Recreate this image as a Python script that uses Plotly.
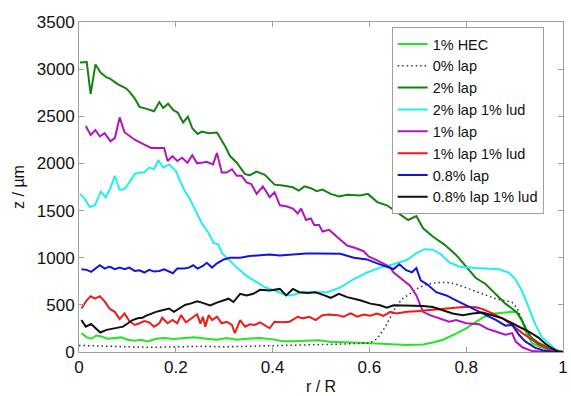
import plotly.graph_objects as go

# Surface height profiles z(r/R) for each fluid
hec_x = [0.005, 0.016, 0.026, 0.036, 0.046, 0.060, 0.074, 0.087, 0.101, 0.115, 0.128, 0.142, 0.159, 0.176,
         0.196, 0.217, 0.237, 0.264, 0.285, 0.305, 0.326, 0.346, 0.374, 0.401, 0.421, 0.442, 0.469, 0.496,
         0.517, 0.554, 0.595, 0.636, 0.677, 0.711, 0.731, 0.752, 0.765, 0.779, 0.800, 0.820, 0.834, 0.854,
         0.875, 0.895, 0.905, 0.916, 0.926, 0.936, 0.953, 0.977, 1.0]
hec_z = [200, 155, 141, 175, 165, 141, 148, 155, 130, 120, 130, 113, 141, 148,
         138, 148, 157, 141, 130, 148, 130, 141, 148, 134, 113, 113, 120, 124,
         110, 106, 96, 85, 75, 80, 100, 130, 160, 195, 250, 315, 365, 405,
         419, 426, 419, 320, 180, 95, 50, 18, 0]

lap0_x = [0.0, 0.05, 0.1, 0.15, 0.2, 0.25, 0.3, 0.35, 0.4, 0.45, 0.5, 0.55, 0.6, 0.616, 0.632, 0.643,
          0.653, 0.667, 0.684, 0.701, 0.718, 0.738, 0.759, 0.779, 0.800, 0.820, 0.840, 0.861, 0.881,
          0.895, 0.905, 0.916, 0.929, 0.950, 0.977, 1.0]
lap0_z = [70, 60, 55, 50, 55, 60, 55, 60, 65, 70, 80, 85, 95, 140, 260, 357,
          461, 560, 620, 680, 715, 735, 740, 720, 680, 640, 600, 565, 545,
          525, 465, 330, 185, 78, 20, 0]

lap2_x = [0.002, 0.016, 0.024, 0.034, 0.045, 0.057, 0.064, 0.080, 0.097, 0.104, 0.115, 0.125, 0.138, 0.155,
          0.166, 0.174, 0.184, 0.195, 0.204, 0.215, 0.225, 0.234, 0.245, 0.254, 0.268, 0.285, 0.302, 0.312,
          0.326, 0.343, 0.353, 0.367, 0.384, 0.404, 0.421, 0.442, 0.454, 0.466, 0.479, 0.491, 0.503, 0.520,
          0.537, 0.554, 0.581, 0.597, 0.616, 0.636, 0.656, 0.680, 0.697, 0.711, 0.731, 0.755, 0.779, 0.800,
          0.820, 0.840, 0.861, 0.881, 0.905, 0.915, 0.925, 0.935, 0.950, 0.970, 1.0]
lap2_z = [3070, 3075, 2738, 3050, 2960, 2912, 2900, 2842, 2797, 2762, 2690, 2600, 2581, 2553,
          2651, 2589, 2634, 2564, 2540, 2435, 2495, 2373, 2313, 2338, 2321, 2328, 2182, 2078,
          2008, 1886, 1875, 1914, 1880, 1775, 1765, 1747, 1712, 1757, 1737, 1705, 1723, 1677,
          1650, 1667, 1660, 1677, 1590, 1556, 1486, 1400, 1441, 1312, 1225, 1139, 1030, 900,
          785, 722, 617, 513, 420, 340, 230, 150, 96, 44, 0]

lap2lud_x = [0.002, 0.012, 0.022, 0.033, 0.045, 0.055, 0.065, 0.074, 0.084, 0.094, 0.104, 0.115, 0.125,
             0.135, 0.145, 0.155, 0.164, 0.174, 0.186, 0.200, 0.210, 0.220, 0.227, 0.241, 0.254, 0.268,
             0.278, 0.288, 0.295, 0.309, 0.326, 0.346, 0.363, 0.384, 0.404, 0.425, 0.438, 0.459, 0.486,
             0.513, 0.540, 0.568, 0.595, 0.622, 0.650, 0.677, 0.697, 0.714, 0.731, 0.748, 0.765, 0.786,
             0.820, 0.847, 0.868, 0.888, 0.902, 0.916, 0.929, 0.943, 0.956, 0.970, 0.987, 1.0]
lap2lud_z = [1677, 1625, 1538, 1556, 1700, 1640, 1740, 1869, 1719, 1729, 1799, 1886, 1903,
             1903, 1956, 1938, 2036, 1956, 1990, 1921, 1799, 1695, 1643, 1504, 1364, 1260,
             1156, 1139, 1051, 982, 895, 808, 756, 686, 652, 607, 600, 634, 634,
             634, 686, 774, 843, 895, 930, 975, 1045, 1090, 1085, 1035, 950, 905,
             890, 885, 878, 843, 770, 640, 470, 290, 160, 90, 15, 0]

lap1_x = [0.014, 0.024, 0.034, 0.043, 0.053, 0.065, 0.074, 0.084, 0.094, 0.104, 0.115, 0.135, 0.149, 0.176,
          0.183, 0.193, 0.203, 0.213, 0.224, 0.234, 0.244, 0.256, 0.264, 0.277, 0.285, 0.295, 0.305, 0.316,
          0.326, 0.336, 0.346, 0.356, 0.367, 0.380, 0.394, 0.404, 0.415, 0.428, 0.442, 0.452, 0.459, 0.469,
          0.479, 0.486, 0.496, 0.503, 0.517, 0.540, 0.554, 0.571, 0.588, 0.599, 0.612, 0.632, 0.643, 0.650,
          0.670, 0.684, 0.697, 0.711, 0.725, 0.745, 0.765, 0.779, 0.800, 0.827, 0.844, 0.861, 0.881, 0.895,
          0.902, 0.916, 0.936, 0.960, 1.0]
lap1_z = [2397, 2303, 2355, 2286, 2321, 2234, 2269, 2488, 2331, 2297, 2251, 2199, 2164, 2164,
          2025, 2077, 2025, 2060, 2008, 2088, 2001, 2010, 2018, 1990, 2112, 1903, 1903, 1938,
          1869, 1869, 1799, 1782, 1677, 1757, 1643, 1695, 1556, 1546, 1521, 1469, 1521, 1400,
          1416, 1348, 1348, 1278, 1295, 1191, 1129, 1103, 1069, 1010, 982, 930, 895, 843,
          760, 704, 600, 426, 391, 357, 321, 339, 305, 294, 245, 217, 183, 200,
          113, 50, 10, 3, 0]

lap1lud_x = [0.005, 0.016, 0.024, 0.033, 0.043, 0.053, 0.063, 0.074, 0.084, 0.094, 0.104, 0.115, 0.125,
             0.135, 0.145, 0.155, 0.166, 0.172, 0.183, 0.193, 0.203, 0.211, 0.221, 0.232, 0.244, 0.251,
             0.256, 0.261, 0.268, 0.275, 0.285, 0.295, 0.305, 0.316, 0.322, 0.333, 0.343, 0.353, 0.363,
             0.374, 0.384, 0.394, 0.404, 0.421, 0.435, 0.452, 0.462, 0.476, 0.489, 0.503, 0.517, 0.534,
             0.547, 0.561, 0.575, 0.588, 0.602, 0.616, 0.629, 0.643, 0.656, 0.677, 0.697, 0.718, 0.745,
             0.776, 0.800, 0.820, 0.834, 0.854, 0.875, 0.895, 0.916, 0.933, 0.950, 0.970, 0.990, 1.0]
lap1lud_z = [461, 548, 592, 565, 592, 537, 461, 426, 349, 409, 329, 287, 305,
             329, 315, 269, 305, 363, 305, 339, 305, 391, 315, 357, 400, 300,
             374, 269, 391, 339, 374, 305, 321, 287, 200, 339, 269, 294, 287,
             315, 287, 252, 321, 315, 321, 374, 357, 374, 339, 391, 398, 391,
             374, 409, 374, 398, 384, 409, 384, 426, 409, 426, 433, 443, 455,
             470, 480, 475, 455, 409, 357, 287, 200, 140, 78, 33, 5, 0]

lap08_x = [0.005, 0.016, 0.025, 0.033, 0.043, 0.053, 0.063, 0.074, 0.084, 0.094, 0.104, 0.115, 0.125,
           0.135, 0.145, 0.155, 0.166, 0.176, 0.186, 0.194, 0.203, 0.217, 0.227, 0.236, 0.245, 0.256,
           0.264, 0.275, 0.285, 0.299, 0.312, 0.333, 0.353, 0.374, 0.394, 0.415, 0.442, 0.469, 0.496,
           0.517, 0.540, 0.568, 0.595, 0.616, 0.636, 0.650, 0.662, 0.675, 0.688, 0.697, 0.706, 0.720,
           0.738, 0.759, 0.779, 0.800, 0.820, 0.840, 0.861, 0.881, 0.895, 0.909, 0.922, 0.943, 0.960,
           0.980, 1.0]
lap08_z = [878, 871, 850, 885, 920, 885, 906, 878, 895, 878, 895, 860, 867,
           843, 871, 853, 860, 878, 850, 836, 885, 885, 895, 920, 885, 913,
           947, 895, 940, 982, 1000, 1000, 1017, 1024, 1035, 1024, 1035, 1045, 1045,
           1040, 1041, 1000, 982, 940, 900, 880, 930, 870, 845, 890, 760, 715,
           634, 600, 548, 495, 443, 391, 340, 280, 287, 183, 113, 44, 15,
           3, 0]

lap08lud_x = [0.005, 0.014, 0.025, 0.034, 0.044, 0.057, 0.074, 0.091, 0.101, 0.111, 0.121, 0.131, 0.138,
              0.149, 0.159, 0.172, 0.186, 0.196, 0.209, 0.220, 0.230, 0.244, 0.254, 0.271, 0.285, 0.299,
              0.309, 0.319, 0.333, 0.346, 0.360, 0.374, 0.394, 0.415, 0.428, 0.442, 0.455, 0.472, 0.489,
              0.507, 0.520, 0.537, 0.554, 0.581, 0.602, 0.622, 0.636, 0.650, 0.684, 0.711, 0.731, 0.752,
              0.772, 0.793, 0.813, 0.834, 0.854, 0.875, 0.895, 0.916, 0.933, 0.950, 0.963, 0.977, 0.990, 1.0]
lap08lud_z = [339, 269, 297, 252, 207, 235, 252, 269, 305, 339, 357, 363, 384,
              409, 426, 443, 461, 426, 467, 502, 513, 537, 524, 495, 524, 548,
              565, 530, 617, 600, 617, 659, 652, 669, 600, 669, 634, 627, 634,
              600, 575, 617, 582, 548, 513, 495, 470, 495, 495, 488, 478, 443,
              409, 391, 409, 419, 391, 357, 305, 252, 205, 150, 90, 40, 5, 0]

series = [
    ("1% HEC", hec_x, hec_z, "#22e622", "solid", 2),
    ("0% lap", lap0_x, lap0_z, "#333333", "1.5px,3px", 1.5),
    ("2% lap", lap2_x, lap2_z, "#138213", "solid", 2),
    ("2% lap 1% lud", lap2lud_x, lap2lud_z, "#22eeee", "solid", 2),
    ("1% lap", lap1_x, lap1_z, "#b414c0", "solid", 2),
    ("1% lap 1% lud", lap1lud_x, lap1lud_z, "#ee1a1a", "solid", 2),
    ("0.8% lap", lap08_x, lap08_z, "#1414dc", "solid", 2),
    ("0.8% lap 1% lud", lap08lud_x, lap08lud_z, "#111111", "solid", 2),
]

fig = go.Figure()
for name, xs, zs, color, dash, w in series:
    fig.add_trace(go.Scatter(x=xs, y=zs, mode="lines", name=name,
                             line=dict(color=color, width=w, dash=dash)))

axis_style = dict(showline=True, linecolor="#a0a0a0", linewidth=1, mirror="ticks",
                  ticks="inside", ticklen=5, tickcolor="#a0a0a0", showgrid=False,
                  zeroline=False, tickfont=dict(size=17, color="#111111"),
                  ticklabeloverflow="allow")

fig.update_xaxes(range=[0, 1], dtick=0.2, tick0=0,
                 title=dict(text="r / R", font=dict(size=16, color="#111111"), standoff=4),
                 **axis_style)
fig.update_yaxes(range=[0, 3500], dtick=500, tick0=0,
                 title=dict(text="z / µm", font=dict(size=16, color="#111111"), standoff=8),
                 **axis_style)

fig.update_layout(
    width=571, height=396,
    margin=dict(l=79, r=3, t=22, b=39),
    paper_bgcolor="white", plot_bgcolor="white",
    font=dict(family="Liberation Sans, Arial, sans-serif", color="#111111"),
    legend=dict(x=0.646, y=0.985, xanchor="left", yanchor="top",
                bgcolor="white", bordercolor="#a0a0a0", borderwidth=1,
                font=dict(size=14.5), tracegroupgap=0, itemwidth=30),
    showlegend=True,
)

fig.write_html("out.html")
